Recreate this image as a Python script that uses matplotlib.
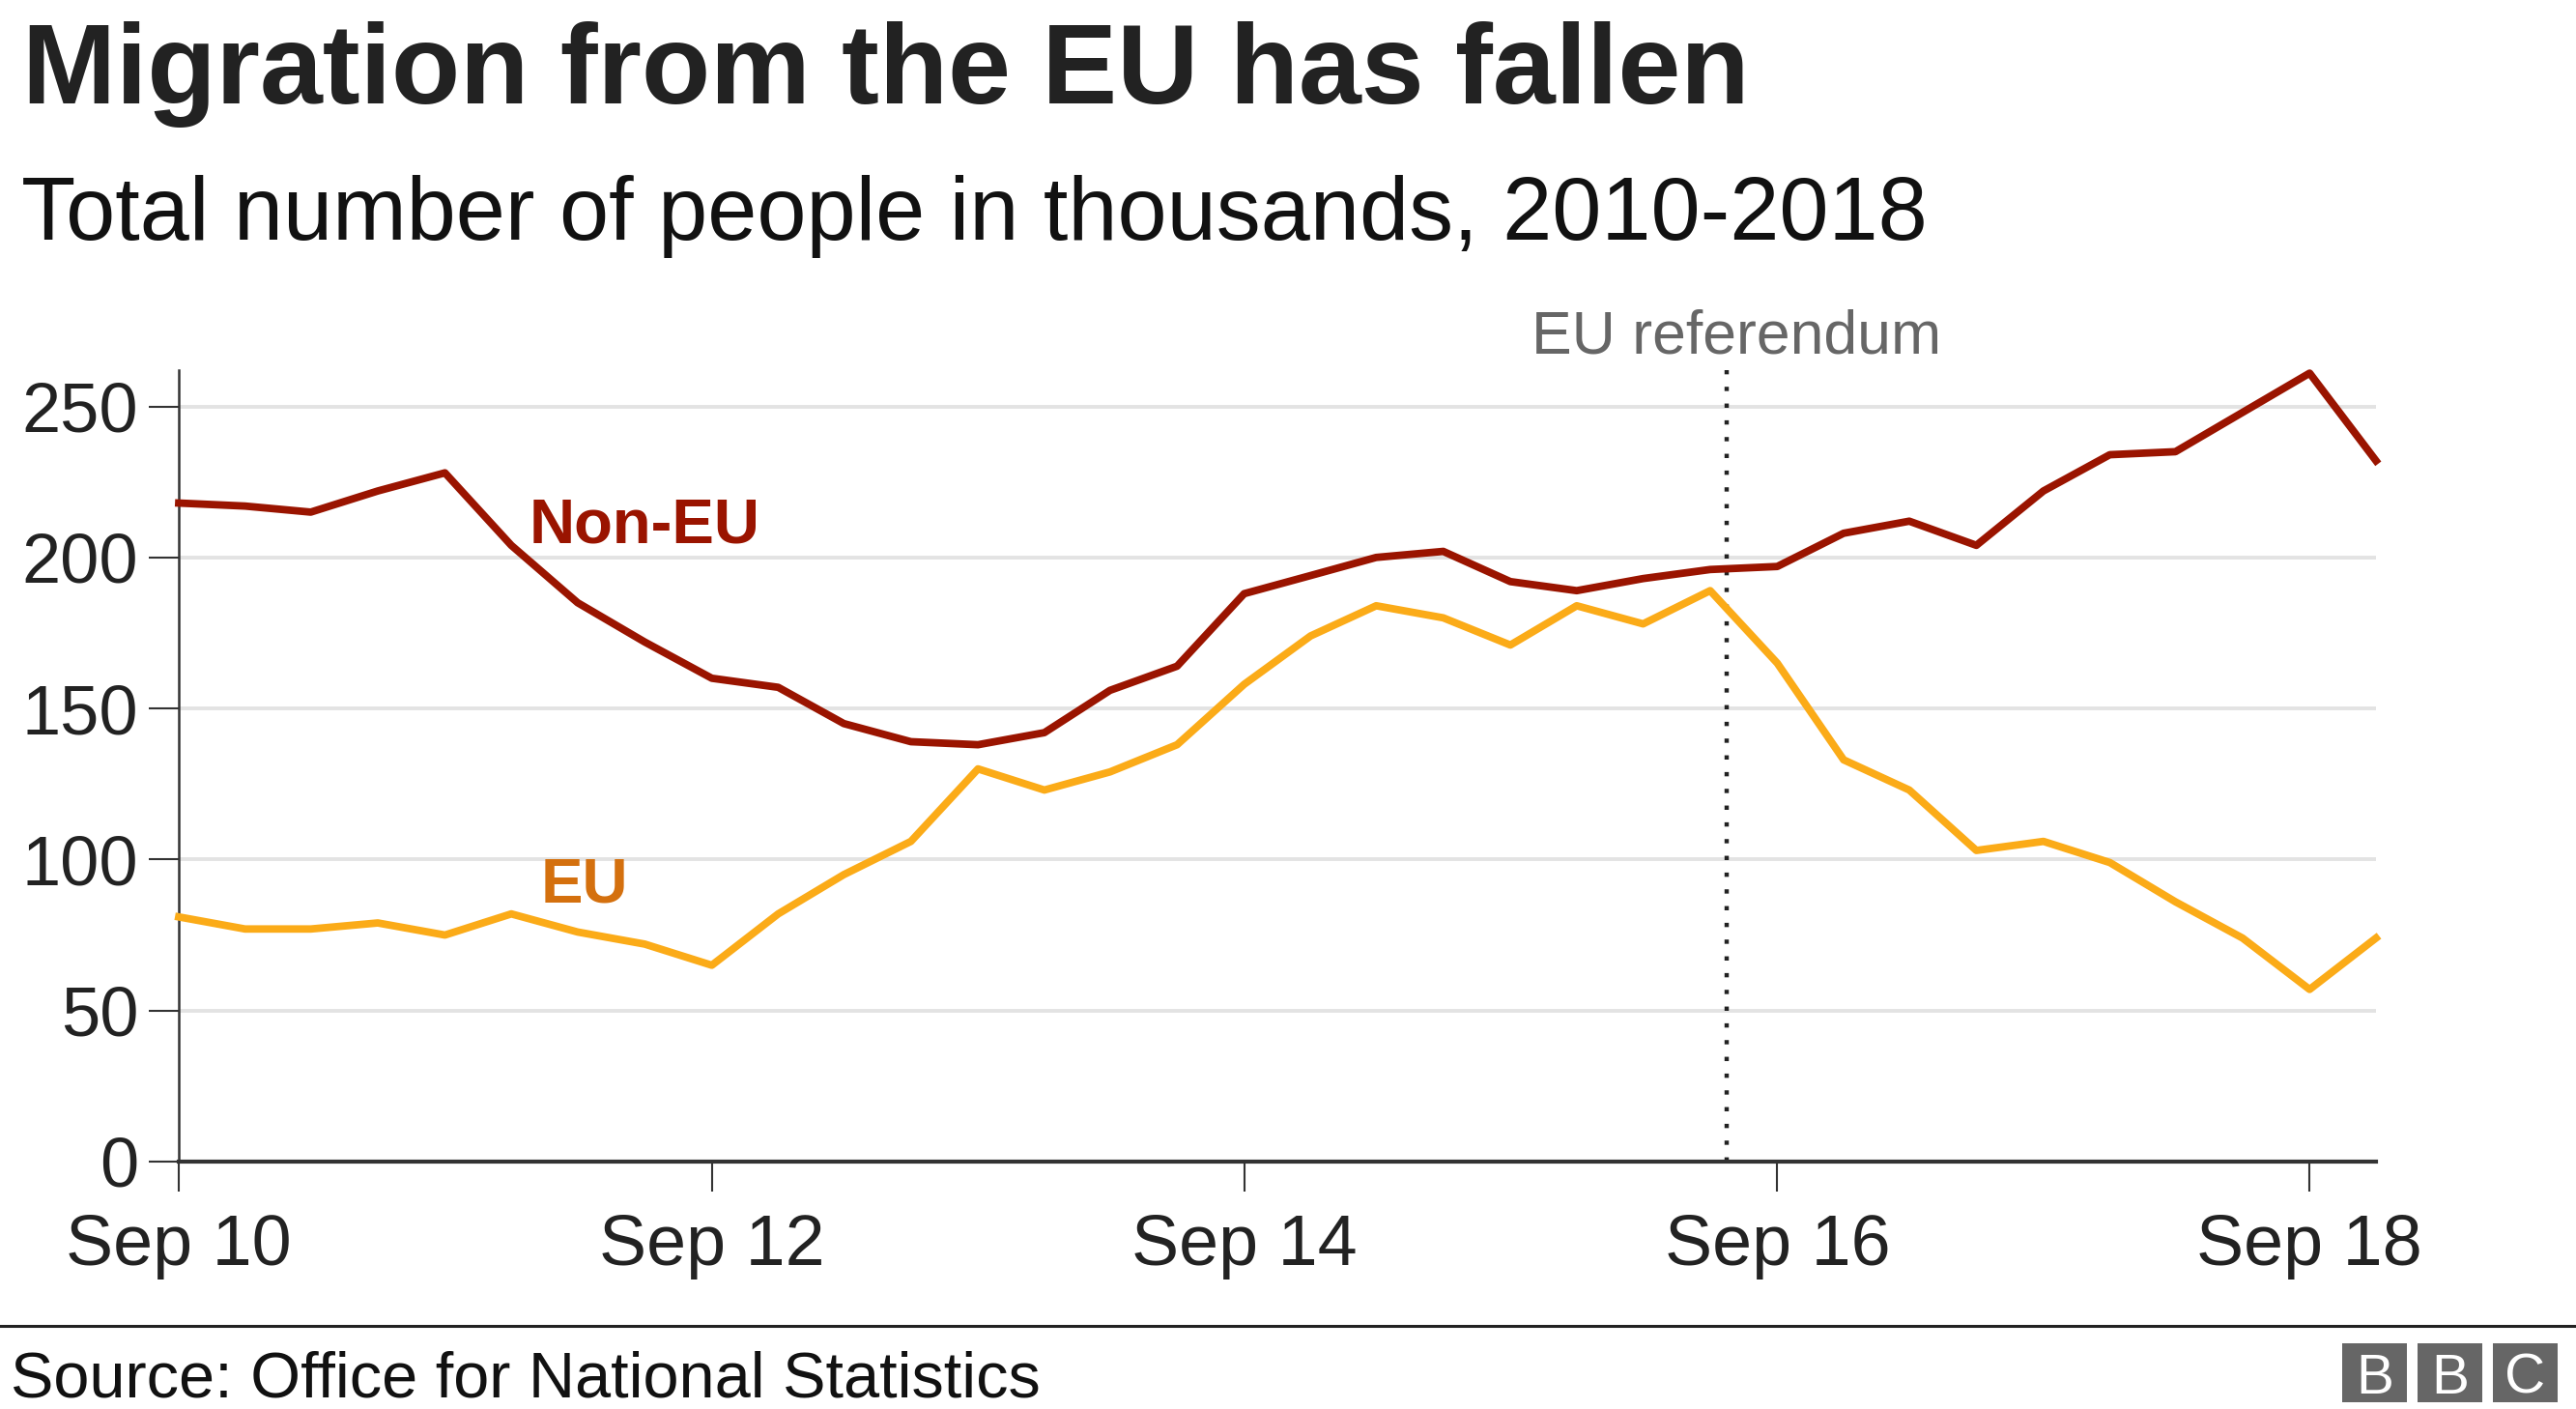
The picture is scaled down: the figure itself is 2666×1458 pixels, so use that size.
import matplotlib
matplotlib.use("Agg")
import matplotlib.pyplot as plt
from matplotlib.patches import Rectangle
from matplotlib.lines import Line2D
import pandas as pd

# ---------------- data ----------------
quarters = pd.date_range("2010-09-01", periods=34, freq="3MS")
non_eu = [218, 217, 215, 222, 228, 204, 185, 172, 160, 157, 145, 139, 138, 142,
          156, 164, 188, 194, 200, 202, 192, 189, 193, 196, 197, 208, 212, 204,
          222, 234, 235, 248, 261, 232]
eu = [81, 77, 77, 79, 75, 82, 76, 72, 65, 82, 95, 106, 130, 123,
      129, 138, 158, 174, 184, 180, 171, 184, 178, 189, 165, 133, 123, 103,
      106, 99, 86, 74, 57, 74]
xtick_dates = pd.to_datetime(["2010-09-01", "2012-09-01", "2014-09-01",
                              "2016-09-01", "2018-09-01"])
xtick_labels = ["Sep 10", "Sep 12", "Sep 14", "Sep 16", "Sep 18"]
yticks = [0, 50, 100, 150, 200, 250]
referendum_date = pd.Timestamp("2016-06-23")

title = "Migration from the EU has fallen"
subtitle = "Total number of people in thousands, 2010-2018"
source = "Source: Office for National Statistics"

# ---------------- style ----------------
W, H = 2666, 1458
DPI = 100
plt.rcParams["font.family"] = ["Liberation Sans", "DejaVu Sans"]

RED = "#9a1400"
YEL = "#fbab18"
EU_LABEL = "#d4700e"
DARK = "#222222"

fig = plt.figure(figsize=(W / DPI, H / DPI), dpi=DPI)
fig.patch.set_facecolor("white")

def fx(px):
    return px / W

def fy(py):
    return 1 - py / H

ax_left, ax_right, ax_top, ax_bottom = 185, 2459, 383, 1202
ax = fig.add_axes([fx(ax_left), fy(ax_bottom), (ax_right - ax_left) / W,
                   (ax_bottom - ax_top) / H])

ax.plot(quarters, non_eu, color=RED, lw=5.6, clip_on=False, zorder=3)
ax.plot(quarters, eu, color=YEL, lw=5.6, clip_on=False, zorder=3)

ax.set_xlim(quarters[0], quarters[-1])
ax.set_ylim(0, 262)

ax.set_yticks(yticks)
ax.set_xticks(xtick_dates)
ax.set_xticklabels(xtick_labels)

ax.yaxis.grid(True, color="#e3e3e3", lw=2.8)
ax.xaxis.grid(False)
ax.set_axisbelow(True)

for s in ["top", "right"]:
    ax.spines[s].set_visible(False)
ax.spines["left"].set_color("#333333")
ax.spines["left"].set_linewidth(1.8)
ax.spines["bottom"].set_color("#333333")
ax.spines["bottom"].set_linewidth(3.0)
ax.spines["bottom"].set_zorder(4)

ax.tick_params(axis="y", length=22, width=1.5, color="#333333", pad=8,
               labelsize=52, labelcolor=DARK)
ax.tick_params(axis="x", length=22, width=1.5, color="#333333", pad=16,
               labelsize=53, labelcolor=DARK)

# referendum marker
ax.axvline(referendum_date, ymin=0, ymax=1, color=DARK, lw=3.2,
           linestyle=(0, (1, 2.9)), zorder=2)
ax.annotate("EU referendum", xy=(referendum_date, 262), xycoords="data",
            xytext=(11, 17), textcoords="offset pixels",
            ha="center", va="baseline", fontsize=45, color="#666666")

# series labels
ax.text(pd.Timestamp("2011-12-26"), 205, "Non-EU", color=RED, fontsize=47,
        fontweight="bold", ha="left", va="baseline")
ax.text(pd.Timestamp("2012-01-10"), 86, "EU", color=EU_LABEL, fontsize=47,
        fontweight="bold", ha="left", va="baseline")

# titles
fig.text(fx(23), fy(107), title, fontsize=84, fontweight="bold", color=DARK,
         ha="left", va="baseline")
fig.text(fx(22), fy(248), subtitle, fontsize=66.2, color="#111111",
         ha="left", va="baseline")

# footer rule + source
fig.add_artist(Line2D([0, 1], [fy(1372), fy(1372)], transform=fig.transFigure,
                      color=DARK, lw=2.2))
fig.text(fx(11), fy(1445), source, fontsize=48, color="#111111",
         ha="left", va="baseline")

# BBC blocks
box_w, box_h = 67, 61
box_top = 1390
for bx, letter in zip([2424, 2502, 2580], ["B", "B", "C"]):
    fig.add_artist(Rectangle((fx(bx), fy(box_top + box_h)), box_w / W, box_h / H,
                             transform=fig.transFigure, facecolor="#666666",
                             edgecolor="none"))
    fig.text(fx(bx + box_w / 2), fy(box_top + box_h / 2), letter,
             fontsize=42, color="white",
             ha="center", va="center_baseline")

fig.savefig("out.png", dpi=DPI, facecolor="white")
